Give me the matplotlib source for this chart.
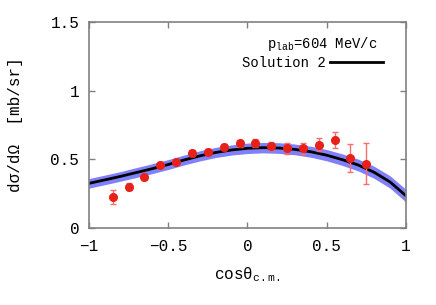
import matplotlib
matplotlib.use('Agg')
import matplotlib.pyplot as plt
import numpy as np

plt.rcParams['font.family'] = ['Liberation Mono', 'DejaVu Sans']
plt.rcParams['mathtext.fontset'] = 'custom'
plt.rcParams['mathtext.rm'] = 'Liberation Mono'
plt.rcParams['mathtext.it'] = 'Liberation Mono'

# measured points
cos_data = [-0.85, -0.75, -0.65, -0.55, -0.45, -0.35, -0.25, -0.15, -0.05,
            0.05, 0.15, 0.25, 0.35, 0.45, 0.55, 0.65, 0.75]
xs_data = [0.228, 0.299, 0.369, 0.457, 0.478, 0.546, 0.556, 0.588, 0.617,
           0.617, 0.597, 0.580, 0.580, 0.607, 0.639, 0.508, 0.468]
xs_err = [0.050, 0.025, 0.020, 0.020, 0.015, 0.025, 0.020, 0.020, 0.025,
          0.030, 0.030, 0.040, 0.040, 0.050, 0.060, 0.100, 0.148]

# Solution 2 curve + band
cos_fit = [-1.0, -0.9, -0.8, -0.7, -0.6, -0.5, -0.4, -0.3, -0.2, -0.1, 0.0,
           0.1, 0.2, 0.3, 0.4, 0.5, 0.6, 0.7, 0.8, 0.9, 1.0]
xs_fit = [0.325, 0.350, 0.376, 0.404, 0.432, 0.462, 0.495, 0.525, 0.550, 0.568,
          0.580, 0.585, 0.582, 0.572, 0.555, 0.530, 0.497, 0.458, 0.405, 0.335, 0.235]
band_hw = [0.035, 0.035, 0.035, 0.036, 0.036, 0.036, 0.036, 0.037, 0.037, 0.037,
           0.038, 0.038, 0.039, 0.039, 0.040, 0.041, 0.042, 0.043, 0.044, 0.045, 0.046]

fit = np.array(xs_fit)
hw = np.array(band_hw)

fig = plt.figure(figsize=(4.36, 3.05), dpi=100)
ax = fig.add_axes([0.204, 0.2525, 0.727, 0.6755])

ax.fill_between(cos_fit, fit - hw, fit + hw, color='#8080fa', lw=0, zorder=1)
ax.plot(cos_fit, xs_fit, color='black', lw=2, zorder=2, label='Solution 2')
ax.errorbar(cos_data, xs_data, yerr=xs_err, fmt='o', color='#e8201a', ms=5.5,
            ecolor='#f07070', elinewidth=1, capsize=2.5, zorder=3)

ax.set_xlim(-1, 1)
ax.set_ylim(0, 1.5)
ax.set_xticks([-1, -0.5, 0, 0.5, 1])
ax.set_xticklabels(['\u22121', '\u22120.5', '0', '0.5', '1'])
ax.set_yticks([0, 0.5, 1, 1.5])
ax.set_yticklabels(['0', '0.5', '1', '1.5'])
ax.tick_params(direction='in', length=4, width=1, color='#808080',
               top=True, right=True, labelsize=11.5)
ax.tick_params(axis='x', pad=8)
ax.tick_params(axis='y', pad=7)
for s in ax.spines.values():
    s.set_color('#808080')
    s.set_linewidth(1.2)

ax.set_xlabel(r'cos$\mathrm{\theta_{c.m.}}$', fontsize=11.5, labelpad=8)
ax.set_ylabel('d\u03c3/d\u03a9  [mb/sr]', fontsize=11.5, labelpad=20)

ax.text(0.912, 0.893, r'$\mathrm{p_{lab}}$=604 MeV/c', transform=ax.transAxes,
        ha='right', va='center', fontsize=10)
ax.legend(loc='center right', bbox_to_anchor=(0.927, 0.801), frameon=False,
          markerfirst=False, handlelength=3.8, fontsize=10,
          borderaxespad=0, borderpad=0, handletextpad=0.3)

fig.savefig('out.png', dpi=100)
